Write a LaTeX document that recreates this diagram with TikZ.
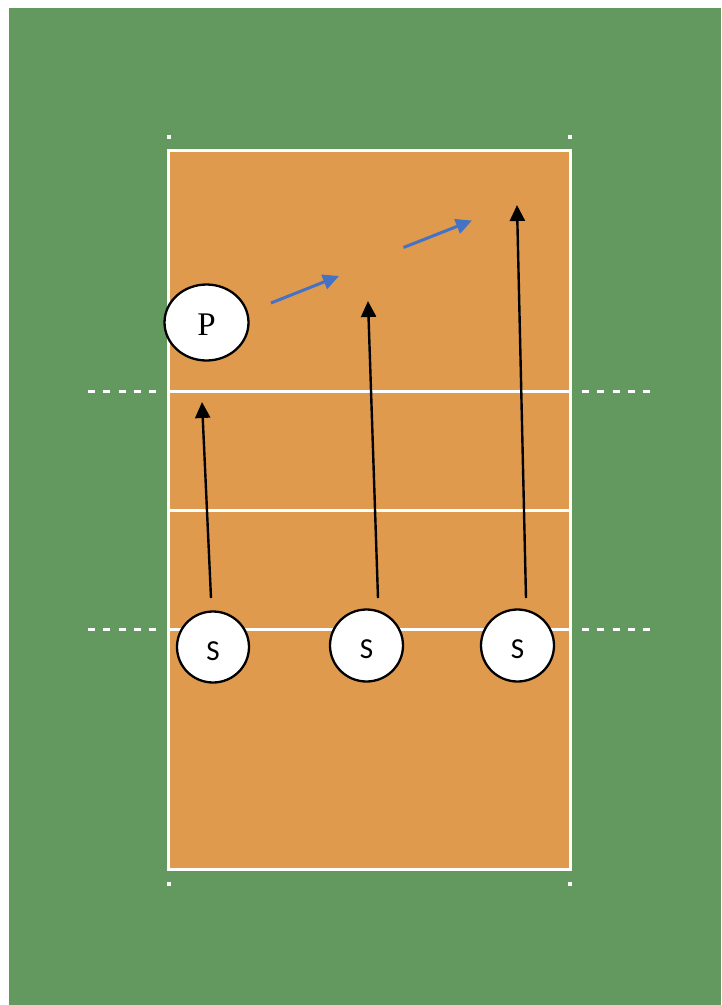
\documentclass[tikz,border=0pt]{standalone}
\usepackage{fontspec}
\setmainfont{Liberation Serif}
\newfontfamily\sfont{Carlito}
\usetikzlibrary{arrows.meta,shapes.geometric}
\definecolor{field}{HTML}{63995E}
\definecolor{court}{HTML}{E09A4E}
\definecolor{bluearrow}{HTML}{4472C4}
\tikzset{
  courtline/.style={draw=white,line width=3pt},
  sideline/.style={draw=white,line width=3pt,dash pattern=on 7pt off 8.3pt},
  corner/.style={fill=white,minimum size=4pt,inner sep=0pt,draw=none,rectangle},
  player/.style={ellipse,draw=black,fill=white,line width=2.3pt,inner sep=0pt},
  run/.style={draw=black,line width=2.4pt,-{Triangle[width=15pt,length=16pt]}},
  pass/.style={draw=bluearrow,fill=bluearrow,line width=3pt,-{Triangle[width=15pt,length=16pt]}}
}
\begin{document}
\begin{tikzpicture}[x=1pt,y=-1pt]
\useasboundingbox[fill=white] (0,0) rectangle (721,1005);
\fill[field] (9,8) rectangle (721,1005);
% court
\fill[court] (168.5,150.5) rectangle (570.5,869.5);
\draw[courtline] (168.5,150.5) rectangle (570.5,869.5);
\draw[courtline] (168.5,391) -- (570.5,391);
\draw[courtline] (168.5,510) -- (570.5,510);
\draw[courtline] (168.5,629) -- (570.5,629);
% dashed extensions
\draw[sideline] (88,391) -- (160,391);
\draw[sideline] (582,391) -- (654,391);
\draw[sideline] (88,629) -- (160,629);
\draw[sideline] (582,629) -- (654,629);
% corner marks
\node[corner] (c1) at (169,137) {};
\node[corner] (c2) at (570,137) {};
\node[corner] (c3) at (169,884) {};
\node[corner] (c4) at (570,884) {};
% players
\node[player,minimum width=84pt,minimum height=76pt] (P) at (206.5,322.5) {};
\node[font=\fontsize{33}{33}\selectfont] (Pt) at (206.5,325) {P};
\node[player,minimum width=72pt,minimum height=71pt] (S1) at (213,647) {};
\node[font=\sfont\fontsize{29}{29}\selectfont] (S1t) at (213,651) {S};
\node[player,minimum width=73pt,minimum height=72pt] (S2) at (366.5,645.5) {};
\node[font=\sfont\fontsize{29}{29}\selectfont] (S2t) at (366.5,649.5) {S};
\node[player,minimum width=73pt,minimum height=72pt] (S3) at (517.5,645.5) {};
\node[font=\sfont\fontsize{29}{29}\selectfont] (S3t) at (517.5,649.5) {S};
% run arrows
\coordinate (r1s) at (211,598);
\coordinate (r1e) at (202,402);
\coordinate (r2s) at (378,598);
\coordinate (r2e) at (368,301);
\coordinate (r3s) at (526,598);
\coordinate (r3e) at (517,205);
\draw[run] (r1s) -- (r1e);
\draw[run] (r2s) -- (r2e);
\draw[run] (r3s) -- (r3e);
% pass arrows
\coordinate (b1s) at (271,303);
\coordinate (b1e) at (339,276);
\coordinate (b2s) at (403.5,247.5);
\coordinate (b2e) at (472,220.5);
\draw[pass] (b1s) -- (b1e);
\draw[pass] (b2s) -- (b2e);
\end{tikzpicture}
\end{document}
